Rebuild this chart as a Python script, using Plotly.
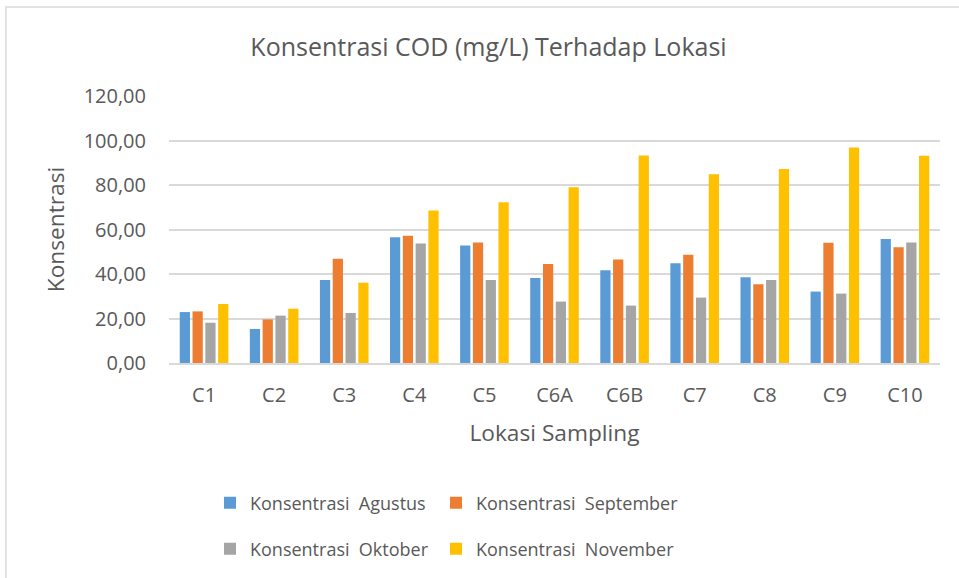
import plotly.graph_objects as go

categories = ["C1", "C2", "C3", "C4", "C5", "C6A", "C6B", "C7", "C8", "C9", "C10"]
agustus = [22.9, 15.3, 37.3, 56.5, 52.8, 38.2, 41.7, 44.8, 38.5, 32.1, 55.7]
september = [23.2, 19.6, 46.9, 57.2, 54.2, 44.5, 46.5, 48.7, 35.4, 54.1, 52.0]
oktober = [18.1, 21.3, 22.5, 53.7, 37.3, 27.6, 25.8, 29.4, 37.3, 31.2, 54.2]
november = [26.5, 24.4, 36.1, 68.5, 72.2, 79.0, 93.3, 84.8, 87.2, 96.8, 93.2]
tick_vals = [0, 20, 40, 60, 80, 100, 120]
tick_text = ["0,00", "20,00", "40,00", "60,00", "80,00", "100,00", "120,00"]

series = [
    ("Konsentrasi  Agustus", agustus, "#5B9BD5", "legend"),
    ("Konsentrasi  September", september, "#ED7D31", "legend2"),
    ("Konsentrasi  Oktober", oktober, "#A5A5A5", "legend3"),
    ("Konsentrasi  November", november, "#FFC000", "legend4"),
]

FONT = "Open Sans"
TXT = "#595959"
W, H = 959, 578

fig = go.Figure()
for name, vals, color, lg in series:
    fig.add_trace(go.Bar(
        x=categories, y=vals, name=name.replace("  ", "\u00a0 "),
        marker=dict(color=color, line=dict(width=0)),
        legend=lg, showlegend=True,
    ))

legend_common = dict(orientation="h", xref="container", yref="container",
                     xanchor="left", yanchor="middle",
                     font=dict(size=18, color=TXT), itemwidth=30, tracegroupgap=0)

fig.update_layout(
    width=W, height=H, showlegend=True,
    paper_bgcolor="white", plot_bgcolor="white",
    margin=dict(l=169, r=19, t=96, b=215),
    barmode="group", bargap=0.27, bargroupgap=0.2,
    font=dict(family=FONT, color=TXT, size=20),
    title=dict(text="Konsentrasi COD (mg/L) Terhadap Lokasi",
               x=488.5 / W, xref="container", xanchor="center",
               y=1 - 47 / H, yref="container", yanchor="middle",
               font=dict(size=25, color=TXT, family=FONT)),
    legend=dict(x=210 / W, y=1 - 503 / H, **legend_common),
    legend2=dict(x=436 / W, y=1 - 503 / H, **legend_common),
    legend3=dict(x=210 / W, y=1 - 549 / H, **legend_common),
    legend4=dict(x=436 / W, y=1 - 549 / H, **legend_common),
    xaxis=dict(showgrid=False, showline=True, linecolor="#D9D9D9", linewidth=1.5,
               ticks="", tickfont=dict(size=20, color=TXT), ticklabelstandoff=13,
               title=dict(text="Lokasi Sampling", font=dict(size=22.7, color=TXT), standoff=18)),
    yaxis=dict(range=[0, 120], tickvals=tick_vals, ticktext=tick_text,
               showgrid=True, gridcolor="#D9D9D9", gridwidth=1.5,
               zeroline=False, showline=False, ticks="",
               tickfont=dict(size=20, color=TXT), ticklabelstandoff=22,
               title=dict(text="Konsentrasi", font=dict(size=22.7, color=TXT), standoff=12)),
    shapes=[dict(type="rect", xref="paper", yref="paper",
                 x0=(6 - 169) / 771, x1=(1000 - 169) / 771,
                 y0=-1.5, y1=(363 - 7) / 267,
                 line=dict(color="#D9D9D9", width=1.5), fillcolor="rgba(0,0,0,0)",
                 layer="below")],
)

fig.write_html("out.html", config={"displayModeBar": False},
               post_script="document.body.style.margin='0';")
